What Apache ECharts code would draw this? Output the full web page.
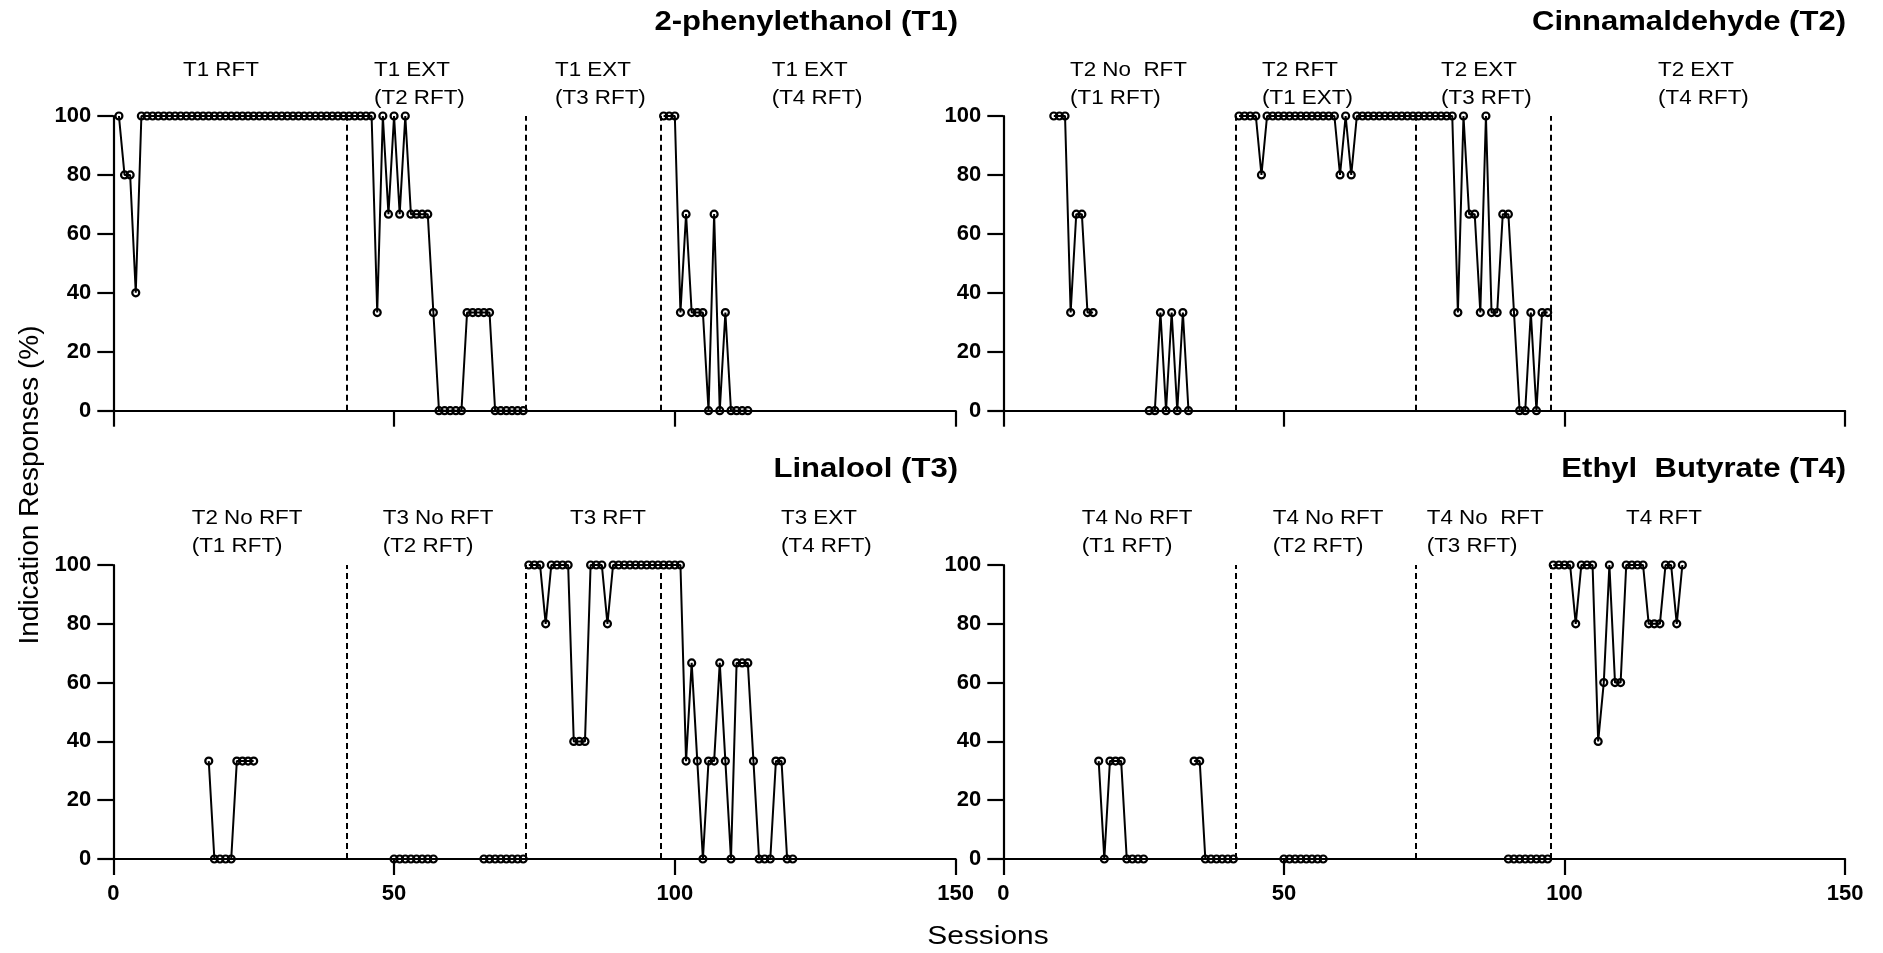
<!DOCTYPE html>
<html>
<head>
<meta charset="utf-8">
<script src="https://cdn.jsdelivr.net/npm/echarts@6/dist/echarts.min.js"></script>
<style>
  html, body { margin: 0; padding: 0; background: #fff; }
  #chart { width: 1883px; height: 953px; }
</style>
</head>
<body>
<div id="chart"></div>
<script>
// ---------------- DATA ----------------
const sessionTicks = [0, 50, 100, 150];
const responseTicks = [0, 20, 40, 60, 80, 100];
const phaseBoundaries = [41.5, 73.5, 97.5];

const panelTitles = ['2-phenylethanol (T1)', 'Cinnamaldehyde (T2)', 'Linalool (T3)', 'Ethyl  Butyrate (T4)'];

const phaseLabelsT1 = ['T1 RFT', 'T1 EXT\n(T2 RFT)', 'T1 EXT\n(T3 RFT)', 'T1 EXT\n(T4 RFT)'];
const phaseLabelsT2 = ['T2 No  RFT\n(T1 RFT)', 'T2 RFT\n(T1 EXT)', 'T2 EXT\n(T3 RFT)', 'T2 EXT\n(T4 RFT)'];
const phaseLabelsT3 = ['T2 No RFT\n(T1 RFT)', 'T3 No RFT\n(T2 RFT)', 'T3 RFT', 'T3 EXT\n(T4 RFT)'];
const phaseLabelsT4 = ['T4 No RFT\n(T1 RFT)', 'T4 No RFT\n(T2 RFT)', 'T4 No  RFT\n(T3 RFT)', 'T4 RFT'];

// each run: first session number + consecutive session values (%)
const t1Runs = [
  { start: 1, values: [
    100, 80, 80, 40,
    100,100,100,100,100,100,100,100,100,100,
    100,100,100,100,100,100,100,100,100,100,
    100,100,100,100,100,100,100,100,100,100,
    100,100,100,100,100,100,100,100,100,100,
    100,100,
    33.3, 100, 66.7, 100, 66.7, 100,
    66.7, 66.7, 66.7, 66.7, 33.3,
    0, 0, 0, 0, 0,
    33.3, 33.3, 33.3, 33.3, 33.3,
    0, 0, 0, 0, 0, 0 ] },
  { start: 98, values: [100, 100, 100, 33.3, 66.7, 33.3, 33.3, 33.3, 0, 66.7, 0, 33.3, 0, 0, 0, 0] }
];

const t2Runs = [
  { start: 9, values: [100, 100, 100, 33.3, 66.7, 66.7, 33.3, 33.3] },
  { start: 26, values: [0, 0, 33.3, 0, 33.3, 0, 33.3, 0] },
  { start: 42, values: [
    100, 100, 100, 100, 80,
    100,100,100,100,100,100,100,100,100,100,100,100,100,
    80, 100, 80,
    100,100,100,100,100,100,100,100,100,100,100,100,100,100,100,100,100,100,
    33.3, 100, 66.7, 66.7, 33.3, 100, 33.3, 33.3, 66.7, 66.7, 33.3,
    0, 0, 33.3, 0, 33.3, 33.3 ] }
];

const t3Runs = [
  { start: 17, values: [33.3, 0, 0, 0, 0, 33.3, 33.3, 33.3, 33.3] },
  { start: 50, values: [0, 0, 0, 0, 0, 0, 0, 0] },
  { start: 66, values: [0, 0, 0, 0, 0, 0, 0, 0] },
  { start: 74, values: [
    100, 100, 100, 80, 100, 100, 100, 100, 40, 40, 40, 100, 100, 100, 80,
    100,100,100,100,100,100,100,100,100,100,100,100,100,
    33.3, 66.7, 33.3, 0, 33.3, 33.3, 66.7, 33.3, 0, 66.7, 66.7, 66.7, 33.3,
    0, 0, 0, 33.3, 33.3, 0, 0 ] }
];

const t4Runs = [
  { start: 17, values: [33.3, 0, 33.3, 33.3, 33.3, 0, 0, 0, 0] },
  { start: 34, values: [33.3, 33.3, 0, 0, 0, 0, 0, 0] },
  { start: 50, values: [0, 0, 0, 0, 0, 0, 0, 0] },
  { start: 90, values: [0, 0, 0, 0, 0, 0, 0, 0] },
  { start: 98, values: [100, 100, 100, 100, 80, 100, 100, 100, 40, 60, 100, 60, 60,
    100, 100, 100, 100, 80, 80, 80, 100, 100, 80, 100] }
];

// ---------------- LAYOUT / STYLE ----------------
const FONT = 'Liberation Sans, Arial, Helvetica, sans-serif';
const panels = [
  { runs: t1Runs, title: panelTitles[0], labels: phaseLabelsT1, grid: { left: 113.3, top: 116, width: 842.3, height: 294.7 }, showX: false,
    labelX: [183, 374, 555, 771.7], labelY: 56.3, titleX: 958, titleY: 22.5 },
  { runs: t2Runs, title: panelTitles[1], labels: phaseLabelsT2, grid: { left: 1003.3, top: 116, width: 841.8, height: 294.7 }, showX: false,
    labelX: [1070, 1262, 1441, 1658], labelY: 56.3, titleX: 1846, titleY: 22.5 },
  { runs: t3Runs, title: panelTitles[2], labels: phaseLabelsT3, grid: { left: 113.3, top: 565, width: 842.3, height: 294 }, showX: true,
    labelX: [191.7, 382.7, 570, 781], labelY: 504, titleX: 958, titleY: 470 },
  { runs: t4Runs, title: panelTitles[3], labels: phaseLabelsT4, grid: { left: 1003.3, top: 565, width: 841.8, height: 294 }, showX: true,
    labelX: [1081.7, 1272.7, 1426.7, 1626], labelY: 504, titleX: 1846, titleY: 470 }
];

const grids = [], xAxes = [], yAxes = [], series = [], graphics = [];

panels.forEach((p, i) => {
  grids.push(Object.assign({ containLabel: false, outerBoundsMode: 'none' }, p.grid));
  xAxes.push({
    type: 'value', gridIndex: i,
    min: sessionTicks[0], max: sessionTicks[sessionTicks.length - 1], interval: sessionTicks[1] - sessionTicks[0],
    axisLine: { show: true, onZero: false, lineStyle: { color: '#000', width: 2.2 } },
    axisTick: { show: true, length: 16, lineStyle: { color: '#000', width: 2.2 } },
    axisLabel: { show: p.showX, margin: 24, color: '#000', fontFamily: FONT, fontWeight: 'bold', fontSize: 22 },
    splitLine: { show: false }
  });
  yAxes.push({
    type: 'value', gridIndex: i,
    min: responseTicks[0], max: responseTicks[responseTicks.length - 1], interval: responseTicks[1] - responseTicks[0],
    axisLine: { show: true, onZero: false, lineStyle: { color: '#000', width: 2.2 } },
    axisTick: { show: true, length: 16, lineStyle: { color: '#000', width: 2.2 } },
    axisLabel: { show: true, margin: 22, color: '#000', fontFamily: FONT, fontWeight: 'bold', fontSize: 22 },
    splitLine: { show: false }
  });
  p.runs.forEach((run, k) => {
    const s = {
      type: 'line', xAxisIndex: i, yAxisIndex: i,
      data: run.values.map((v, j) => [run.start + j, v]),
      symbol: 'circle', symbolSize: 7, showSymbol: true,
      color: '#000',
      lineStyle: { color: '#000', width: 2 },
      itemStyle: { color: 'rgba(0,0,0,0)', borderColor: '#000', borderWidth: 2.2 },
      emphasis: { disabled: true },
      silent: true, z: 3
    };
    if (k === 0) {
      s.markLine = {
        silent: true, symbol: ['none', 'none'],
        label: { show: false },
        lineStyle: { color: '#000', width: 2, type: [6, 4] },
        data: phaseBoundaries.map(b => ({ xAxis: b }))
      };
    }
    series.push(s);
  });
  // title
  graphics.push({
    type: 'text', x: p.titleX, y: p.titleY, scaleX: 1.15,
    style: { text: p.title, fill: '#000', fontFamily: FONT, fontWeight: 'bold', fontSize: 27,
      align: 'right', textAlign: 'right', verticalAlign: 'middle', textVerticalAlign: 'middle' }
  });
  // phase labels
  p.labels.forEach((t, j) => {
    graphics.push({
      type: 'text', x: p.labelX[j], y: p.labelY, scaleX: 1.12,
      style: { text: t, fill: '#000', fontFamily: FONT, fontSize: 20, lineHeight: 28,
        align: 'left', textAlign: 'left', verticalAlign: 'top', textVerticalAlign: 'top' }
    });
  });
});

graphics.push({
  type: 'text', x: 30, y: 485, rotation: Math.PI / 2,
  style: { text: 'Indication Responses (%)', fill: '#000', fontFamily: FONT, fontSize: 28,
    align: 'center', textAlign: 'center', verticalAlign: 'middle', textVerticalAlign: 'middle' }
});
graphics.push({
  type: 'text', x: 988, y: 937, scaleX: 1.15,
  style: { text: 'Sessions', fill: '#000', fontFamily: FONT, fontSize: 26,
    align: 'center', textAlign: 'center', verticalAlign: 'middle', textVerticalAlign: 'middle' }
});

const chart = echarts.init(document.getElementById('chart'), null, { renderer: 'canvas' });
chart.setOption({
  animation: false,
  backgroundColor: '#fff',
  grid: grids,
  xAxis: xAxes,
  yAxis: yAxes,
  series: series,
  graphic: graphics
});
</script>
</body>
</html>
